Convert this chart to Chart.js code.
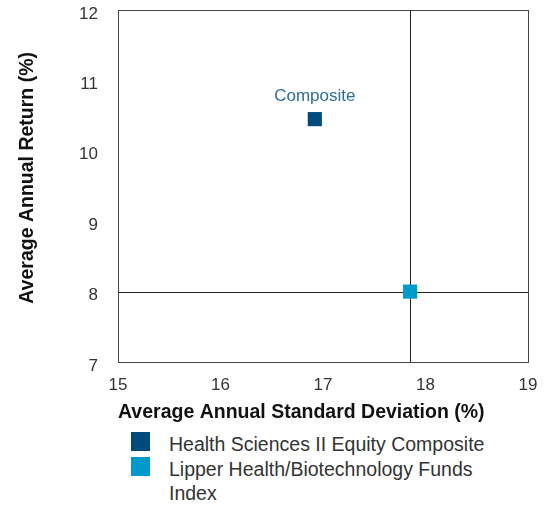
<!DOCTYPE html>
<html>
<head>
<meta charset="utf-8">
<script src="https://cdn.jsdelivr.net/npm/chart.js@4/dist/chart.umd.min.js"></script>
<style>
  body { margin: 0; background: #fff; font-family: "Liberation Sans", Arial, sans-serif; }
  #wrap { position: relative; width: 546px; height: 425px; }
  #legend { margin: 7px 0 0 131px; padding: 0; list-style: none; }
  #legend li { display: flex; align-items: flex-start; font-size: 19.5px; color: #333; line-height: 24.5px; }
  #legend .box { width: 19px; height: 19px; flex: none; margin: 0 19px 0 0; }
  #legend .txt { width: 340px; }
</style>
</head>
<body>
<div id="wrap"><canvas id="riskChart"></canvas></div>
<ul id="legend"></ul>
<script>
  const seriesNames = ['Health Sciences II Equity Composite', 'Lipper Health/Biotechnology Funds Index'];
  const stdDev = [16.92, 17.85];
  const annReturn = [10.45, 8.0];
  const pointLabels = ['Composite', ''];
  const colors = ['#004b7c', '#0099cc'];
  const xTicks = [15, 16, 17, 18, 19];
  const yTicks = [7, 8, 9, 10, 11, 12];

  // crosshair goes through the index point
  const crossIdx = 1;

  const frameAndCross = {
    id: 'frameAndCross',
    beforeDatasetsDraw(chart) {
      const { ctx, chartArea: a, scales } = chart;
      const px = scales.x.getPixelForValue(stdDev[crossIdx]);
      const py = scales.y.getPixelForValue(annReturn[crossIdx]);
      ctx.save();
      ctx.strokeStyle = '#222';
      ctx.lineWidth = 1;
      ctx.beginPath();
      ctx.moveTo(Math.round(px) + 0.5, a.top);
      ctx.lineTo(Math.round(px) + 0.5, a.bottom);
      ctx.moveTo(a.left, Math.round(py) + 0.5);
      ctx.lineTo(a.right, Math.round(py) + 0.5);
      ctx.stroke();
      ctx.strokeStyle = '#444';
      ctx.strokeRect(a.left + 0.5, a.top + 0.5, a.right - a.left, a.bottom - a.top);
      ctx.restore();
    },
    afterDatasetsDraw(chart) {
      const { ctx } = chart;
      ctx.save();
      ctx.font = '17px "Liberation Sans Narrow", "Liberation Sans", sans-serif';
      ctx.fillStyle = '#2f6d96';
      ctx.textAlign = 'center';
      ctx.textBaseline = 'bottom';
      chart.data.datasets.forEach((ds, i) => {
        if (!pointLabels[i]) return;
        const el = chart.getDatasetMeta(i).data[0];
        ctx.fillText(pointLabels[i], el.x, el.y - 14);
      });
      ctx.restore();
    }
  };

  new Chart(document.getElementById('riskChart'), {
    type: 'scatter',
    data: {
      datasets: seriesNames.map((name, i) => ({
        label: name,
        data: [{ x: stdDev[i], y: annReturn[i] }],
        pointStyle: 'rect',
        pointRadius: 10,
        pointHoverRadius: 10,
        backgroundColor: colors[i],
        borderColor: colors[i],
        borderWidth: 0
      }))
    },
    options: {
      responsive: true,
      maintainAspectRatio: false,
      animation: false,
      layout: { padding: { top: 8, right: 18, left: 0, bottom: 0 } },
      plugins: {
        legend: { display: false },
        tooltip: { enabled: false }
      },
      scales: {
        x: {
          type: 'linear', min: 15, max: 19,
          afterBuildTicks: s => { s.ticks = xTicks.map(v => ({ value: v })); },
          afterFit: s => { s.height = 63; s.paddingLeft = 0; s.paddingRight = 0; },
          grid: { display: false },
          border: { display: false },
          ticks: { color: '#333', font: { family: 'Liberation Sans', size: 17 }, padding: 5 },
          title: { display: true, text: 'Average Annual Standard Deviation (%)', color: '#111', align: 'start',
            font: { family: 'Liberation Sans', size: 19.5, weight: 'bold' }, padding: { top: 0, bottom: 1 } }
        },
        y: {
          type: 'linear', min: 7, max: 12,
          afterBuildTicks: s => { s.ticks = yTicks.map(v => ({ value: v })); },
          afterFit: s => { s.width = 118; s.paddingTop = 0; s.paddingBottom = 0; },
          grid: { display: false },
          border: { display: false },
          ticks: { color: '#333', font: { family: 'Liberation Sans', size: 17 }, padding: 12, labelOffset: 4 },
          title: { display: true, text: '   Average Annual Return (%)', color: '#111',
            font: { family: 'Liberation Sans', size: 19.5, weight: 'bold' }, padding: { top: 16, bottom: 0 } }
        }
      }
    },
    plugins: [frameAndCross]
  });

  const legend = document.getElementById('legend');
  seriesNames.forEach((name, i) => {
    const li = document.createElement('li');
    li.innerHTML = '<span class="box" style="background:' + colors[i] + '"></span><span class="txt"></span>';
    li.querySelector('.txt').textContent = name;
    legend.appendChild(li);
  });
</script>
</body>
</html>
